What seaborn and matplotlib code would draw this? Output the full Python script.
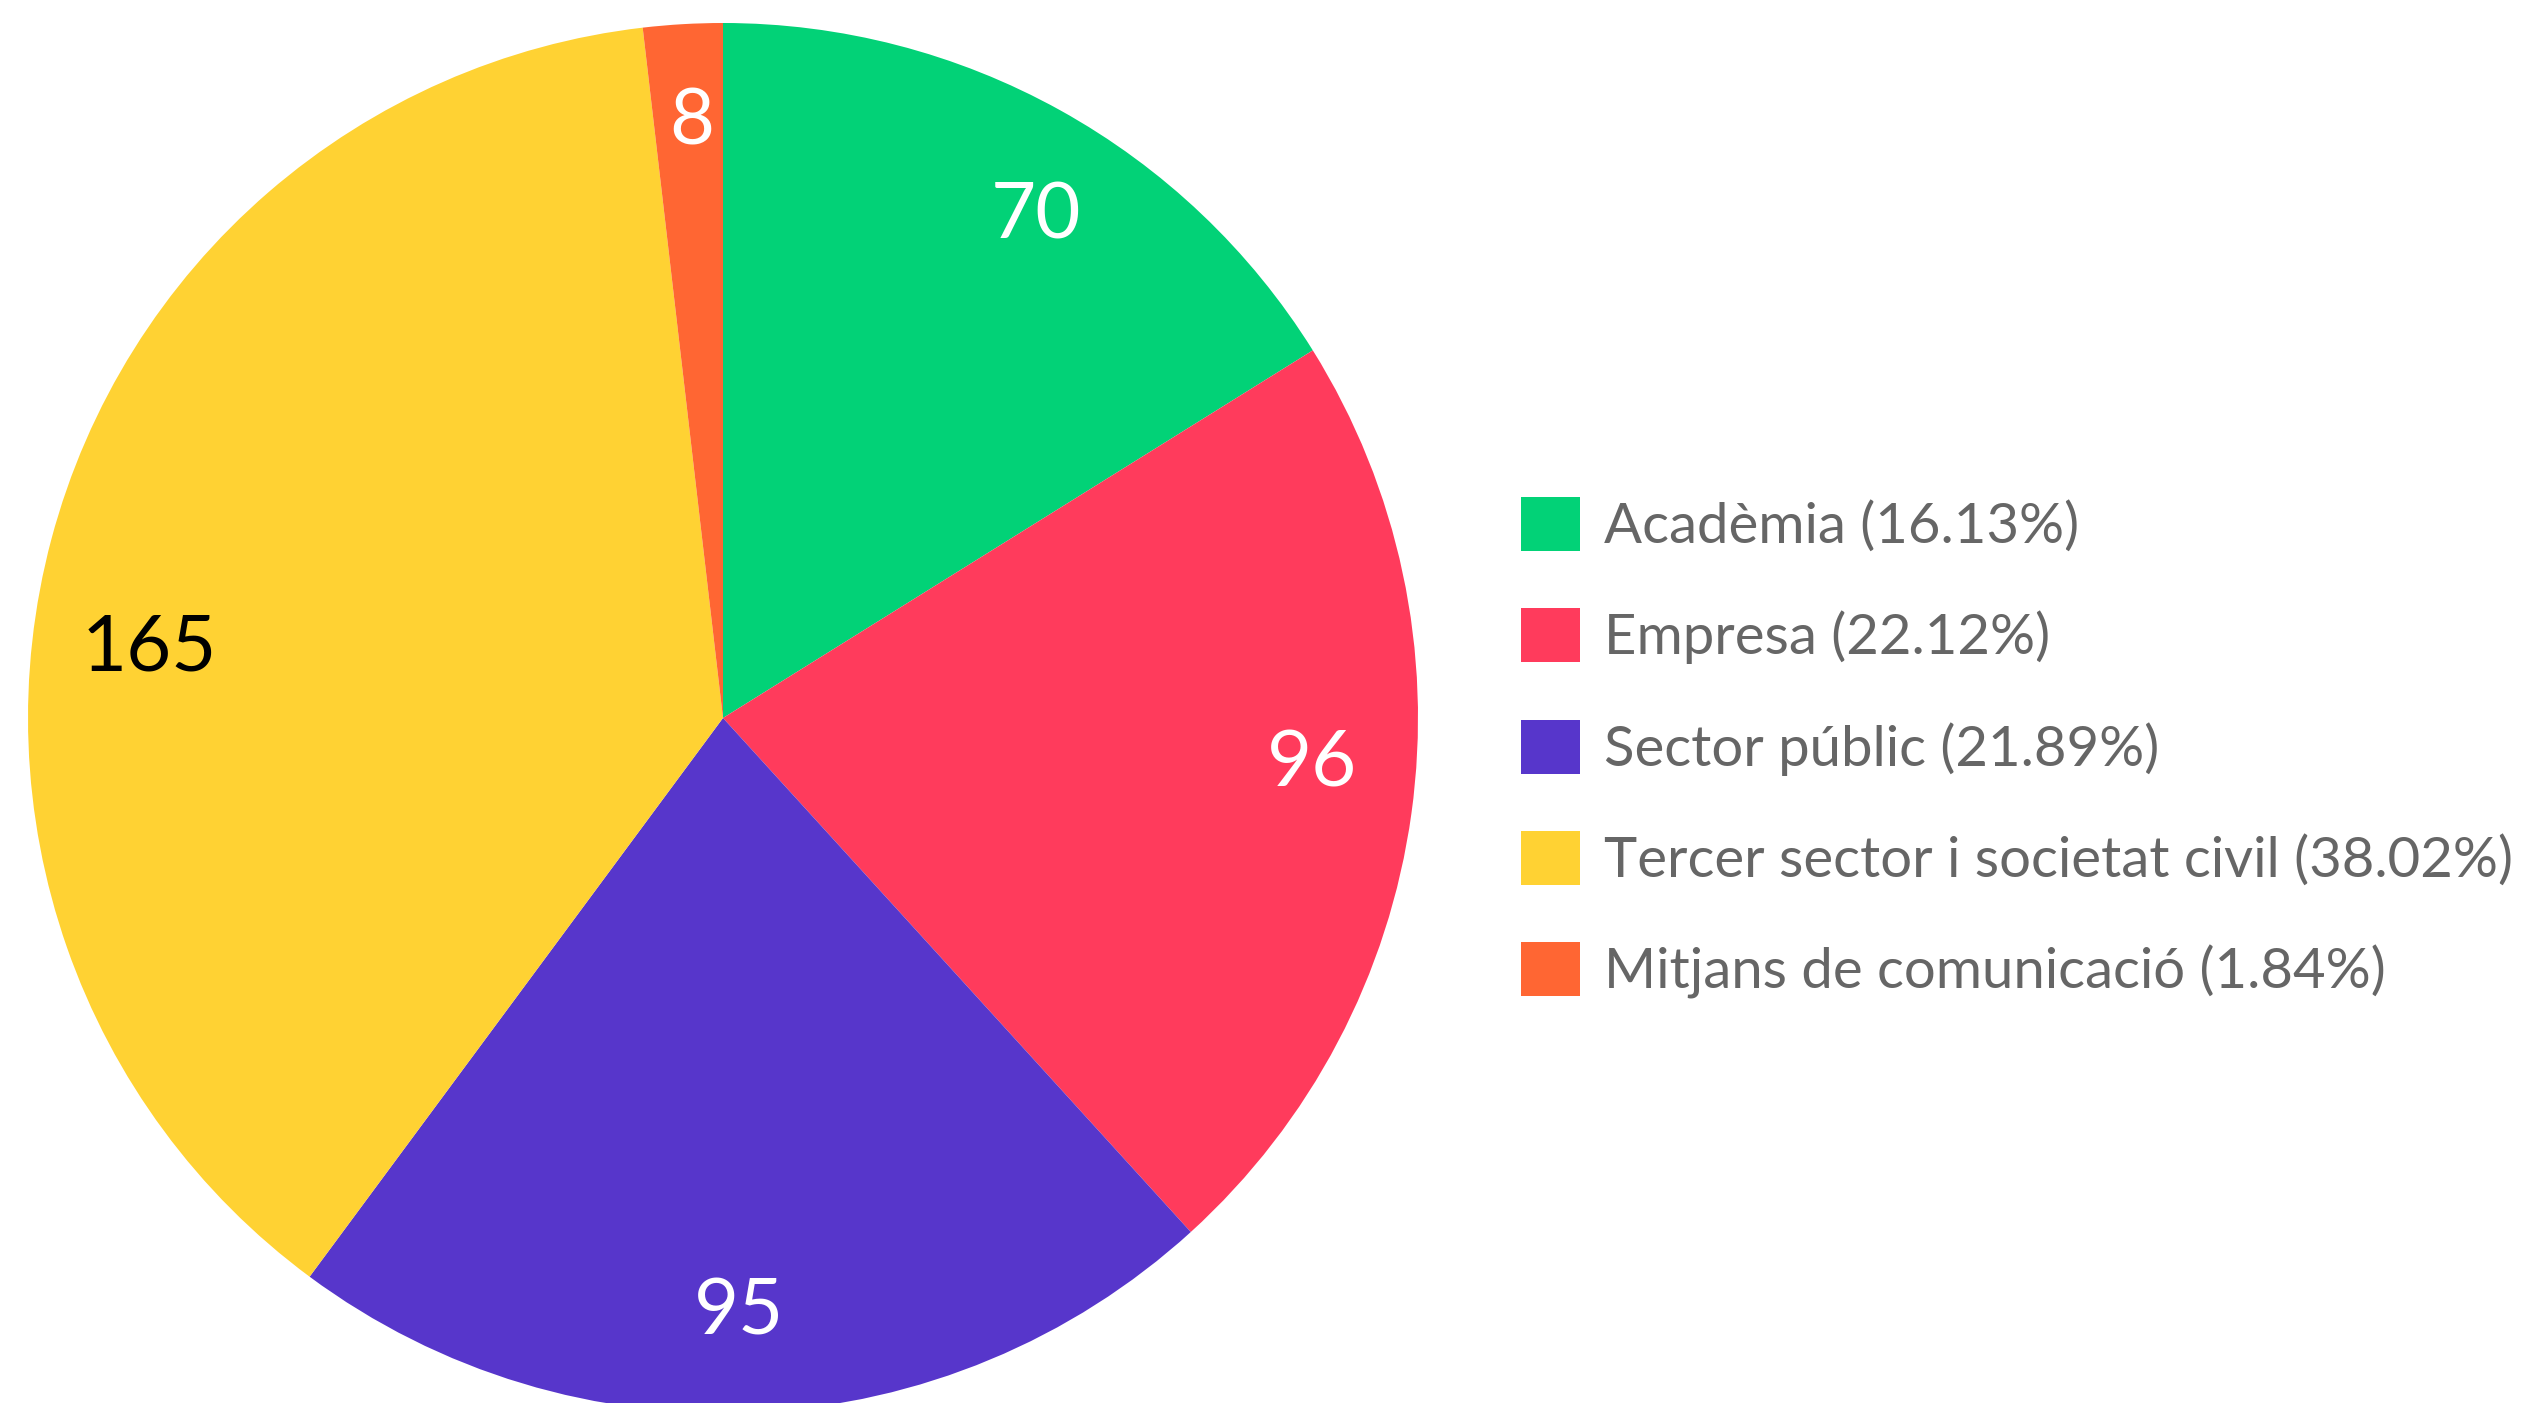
import matplotlib
matplotlib.use("Agg")
import matplotlib.pyplot as plt
import seaborn as sns
import numpy as np
from matplotlib.patches import Patch

categories = ["Acadèmia", "Empresa", "Sector públic", "Tercer sector i societat civil", "Mitjans de comunicació"]
values = [70, 96, 95, 165, 8]
percent_labels = ["16.13%", "22.12%", "21.89%", "38.02%", "1.84%"]
colors = ["#02D277", "#FF3B5C", "#5736CB", "#FFD233", "#FF6633"]
label_colors = ["white", "white", "white", "black", "white"]

sns.set_theme(style="white")
plt.rcParams['font.family'] = ['Lato', 'DejaVu Sans']

W, H = 2531, 1403
fig = plt.figure(figsize=(W / 100, H / 100), dpi=100)
cx, cy, R = 723, 718, 695
ax = fig.add_axes([(cx - R) / W, (H - cy - R) / H, 2 * R / W, 2 * R / H])

wedges, _ = ax.pie(values, colors=colors, startangle=90, counterclock=False,
                   radius=1.0, wedgeprops=dict(linewidth=0))
ax.set_xlim(-1, 1)
ax.set_ylim(-1, 1)
ax.set_aspect("equal")
ax.axis("off")

# value labels (placement style)
label_radius = [0.858, 0.85, 0.848, 0.833, 0.867]
label_shift = [2.6, -3.9, 1.3, -7.5, 0.3]  # degrees, clockwise
total = sum(values)
cum = 0
for i, v in enumerate(values):
    mid = 360 * (cum + v / 2) / total
    cum += v
    ang = np.deg2rad(90 - (mid + label_shift[i]))
    r = label_radius[i]
    ax.text(r * np.cos(ang), r * np.sin(ang) - 0.009, str(v), ha="center", va="center",
            fontsize=56, color=label_colors[i])

handles = [Patch(facecolor=c, edgecolor="none") for c in colors]
labels = [f"{c} ({p})" for c, p in zip(categories, percent_labels)]
fs = 40.5
leg = fig.legend(handles, labels, loc="upper left", bbox_to_anchor=(1521 / W, 1 - 497 / H),
                 frameon=False, fontsize=fs, handlelength=1.05, handleheight=1.1,
                 labelspacing=0.98, handletextpad=0.42, borderpad=0, borderaxespad=0)
for t in leg.get_texts():
    t.set_color("#666666")

fig.savefig("out.png", dpi=100, facecolor="white")
